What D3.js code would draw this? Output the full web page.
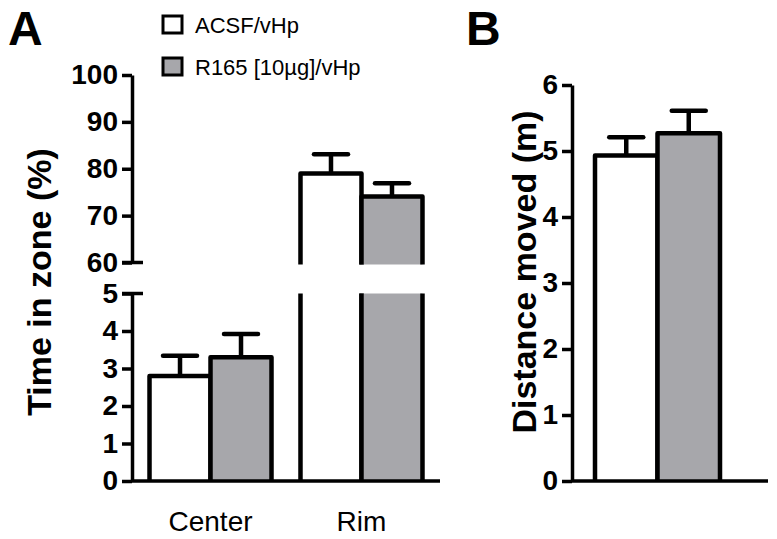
<!DOCTYPE html>
<html>
<head>
<meta charset="utf-8">
<script src="https://cdn.jsdelivr.net/npm/d3@7"></script>
<style>
  html, body { margin: 0; padding: 0; background: #fff; }
  svg { display: block; }
  text { font-family: "Liberation Sans", Arial, Helvetica, sans-serif; }
</style>
</head>
<body>
<script>
// ---------------- data ----------------
const groups = ["Center", "Rim"];
const seriesNames = ["ACSF/vHp", "R165 [10µg]/vHp"];
const seriesFills = ["#ffffff", "#a7a7ab"];

const acsfZone = [2.8, 79.0];
const acsfZoneSem = [0.54, 4.1];
const r165Zone = [3.3, 74.1];
const r165ZoneSem = [0.62, 2.8];

const acsfDistance = 4.93;
const acsfDistanceSem = 0.28;
const r165Distance = 5.27;
const r165DistanceSem = 0.34;

const ticksUpper = [60, 70, 80, 90, 100];
const ticksLower = [0, 1, 2, 3, 4, 5];
const ticksDistance = [0, 1, 2, 3, 4, 5, 6];

const zoneMeans = [acsfZone, r165Zone];
const zoneSems = [acsfZoneSem, r165ZoneSem];
const distMeans = [acsfDistance, r165Distance];
const distSems = [acsfDistanceSem, r165DistanceSem];

// ---------------- layout ----------------
const W = 777, H = 539;
const svg = d3.select("body").append("svg").attr("width", W).attr("height", H);

const axA = 132, axB = 572, base = 481;
const yLow = d3.scaleLinear().domain([0, 5]).range([base, 293.5]);
const yHigh = d3.scaleLinear().domain([60, 100]).range([262.5, 75]);
const yB = d3.scaleLinear().domain([0, 6]).range([base, 85]);

const xA = d3.scalePoint().domain(groups).range([axA, 440]).padding(0.52);
const xSub = d3.scaleBand().domain(seriesNames).range([-61, 61]).paddingInner(0);
const xB = d3.scaleBand().domain(seriesNames).range([595, 720]).paddingInner(0);

const barStroke = 4.5, axisStroke = 3.5;
const capHalf = 17;

const barsG = svg.append("g");

function outline(d) {
  barsG.append("path").attr("d", d)
    .attr("fill", "none").attr("stroke", "#000")
    .attr("stroke-width", barStroke).attr("stroke-linejoin", "round");
}
function errBar(cx, yTop, yEnd) {
  barsG.append("line").attr("x1", cx).attr("x2", cx).attr("y1", yTop).attr("y2", yEnd)
    .attr("stroke", "#000").attr("stroke-width", barStroke);
  barsG.append("line").attr("x1", cx - capHalf).attr("x2", cx + capHalf).attr("y1", yEnd).attr("y2", yEnd)
    .attr("stroke", "#000").attr("stroke-width", barStroke).attr("stroke-linecap", "round");
}

// ---------------- Panel A bars ----------------
groups.forEach((g, gi) => {
  seriesNames.forEach((s, si) => {
    const v = zoneMeans[si][gi], e = zoneSems[si][gi];
    const left = xA(g) + xSub(s), right = left + xSub.bandwidth();
    const cx = (left + right) / 2;
    if (v <= 5) {
      barsG.append("rect").attr("x", left).attr("y", yLow(v))
        .attr("width", right - left).attr("height", yLow(0) - yLow(v))
        .attr("fill", seriesFills[si]);
      errBar(cx, yLow(v), yLow(v + e));
      outline(`M${left},${yLow(0)}V${yLow(v)}H${right}V${yLow(0)}`);
    } else {
      const lowTop = yLow(5), highBot = yHigh(60) + 2;
      barsG.append("rect").attr("x", left).attr("y", lowTop)
        .attr("width", right - left).attr("height", yLow(0) - lowTop)
        .attr("fill", seriesFills[si]);
      barsG.append("rect").attr("x", left).attr("y", yHigh(v))
        .attr("width", right - left).attr("height", highBot - yHigh(v))
        .attr("fill", seriesFills[si]);
      errBar(cx, yHigh(v), yHigh(v + e));
      outline(`M${left},${yLow(0)}V${lowTop}M${right},${yLow(0)}V${lowTop}`);
      outline(`M${left},${highBot}V${yHigh(v)}H${right}V${highBot}`);
    }
  });
});

// ---------------- Panel B bars ----------------
seriesNames.forEach((s, si) => {
  const v = distMeans[si], e = distSems[si];
  const left = xB(s), right = left + xB.bandwidth(), cx = (left + right) / 2;
  barsG.append("rect").attr("x", left).attr("y", yB(v))
    .attr("width", right - left).attr("height", yB(0) - yB(v))
    .attr("fill", seriesFills[si]);
  errBar(cx, yB(v), yB(v + e));
  outline(`M${left},${yB(0)}V${yB(v)}H${right}V${yB(0)}`);
});

// ---------------- axes ----------------
function styleAxis(sel) {
  sel.select(".domain").attr("stroke-width", axisStroke);
  sel.selectAll(".tick line").attr("stroke-width", axisStroke);
  sel.selectAll(".tick text")
    .attr("font-size", 28).attr("font-weight", "bold")
    .attr("fill", "#000")
    .style("font-family", '"Liberation Sans", Arial, sans-serif');
}
function yAxis(scale, ticks, x) {
  const g = svg.append("g").attr("transform", `translate(${x},0)`)
    .call(d3.axisLeft(scale).tickValues(ticks).tickFormat(d3.format("d"))
      .tickSize(10).tickSizeOuter(0).tickPadding(4));
  styleAxis(g);
  return g;
}
yAxis(yHigh, ticksUpper, axA);
yAxis(yLow, ticksLower, axA);
yAxis(yB, ticksDistance, axB);

// break caps
[yHigh(60), yLow(5)].forEach(y => {
  svg.append("line").attr("x1", axA - 10).attr("x2", axA + 11).attr("y1", y).attr("y2", y)
    .attr("stroke", "#000").attr("stroke-width", axisStroke);
});

// x axes
svg.append("line").attr("x1", axA).attr("x2", 440).attr("y1", base).attr("y2", base)
  .attr("stroke", "#000").attr("stroke-width", axisStroke);
svg.append("line").attr("x1", axB).attr("x2", 768).attr("y1", base).attr("y2", base)
  .attr("stroke", "#000").attr("stroke-width", axisStroke);

// category labels
svg.append("g").selectAll("text").data(groups).join("text")
  .attr("x", d => xA(d)).attr("y", 531)
  .attr("text-anchor", "middle").attr("font-size", 28).attr("fill", "#000")
  .text(d => d);

// axis titles
svg.append("text").attr("transform", "translate(51,282) rotate(-90)")
  .attr("text-anchor", "middle").attr("font-size", 34).attr("font-weight", "bold")
  .text("Time in zone (%)");
svg.append("text").attr("transform", "translate(536,272) rotate(-90)")
  .attr("text-anchor", "middle").attr("font-size", 34).attr("font-weight", "bold")
  .text("Distance moved (m)");

// panel letters
svg.append("text").attr("x", 8).attr("y", 45).attr("font-size", 48).attr("font-weight", "bold").text("A");
svg.append("text").attr("x", 466).attr("y", 45).attr("font-size", 48).attr("font-weight", "bold").text("B");

// legend
const legend = svg.append("g");
seriesNames.forEach((s, i) => {
  const y = 16 + i * 42;
  legend.append("rect").attr("x", 163).attr("y", y).attr("width", 19).attr("height", 17)
    .attr("fill", seriesFills[i]).attr("stroke", "#000").attr("stroke-width", 3);
  legend.append("text").attr("x", 195).attr("y", y + 17).attr("font-size", 22).attr("fill", "#000").text(s);
});
</script>
</body>
</html>
